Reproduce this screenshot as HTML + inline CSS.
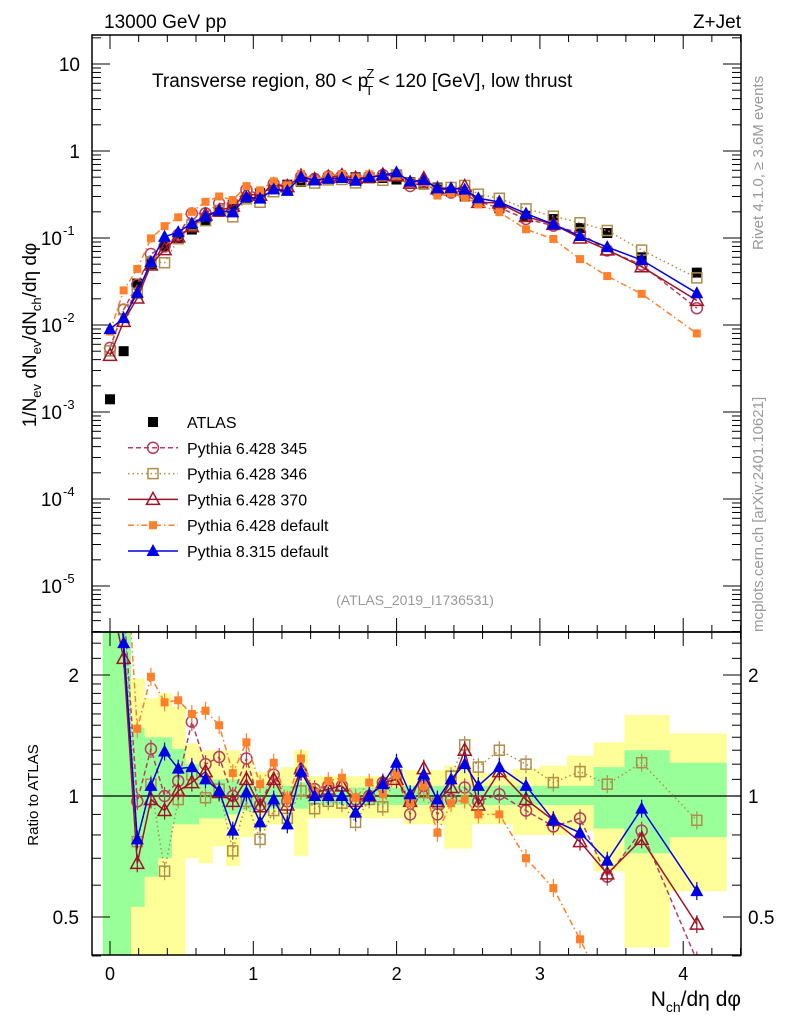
<!DOCTYPE html>
<html><head><meta charset="utf-8"><style>
html,body{margin:0;padding:0;background:#fff;width:786px;height:1024px;overflow:hidden;}
svg{display:block;font-family:"Liberation Sans",sans-serif;}
</style></head><body>
<svg id="c" width="786" height="1024" viewBox="0 0 786 1024" xmlns="http://www.w3.org/2000/svg">
<defs>
<clipPath id="cm"><rect x="92" y="35" width="649" height="597"/></clipPath>
<clipPath id="cr"><rect x="92" y="632" width="649" height="323"/></clipPath>
</defs>
<g id="bands" clip-path="url(#cr)"></g>
<g id="grid"></g>
<g id="mainMarks" clip-path="url(#cm)"></g>
<g id="ratioMarks" clip-path="url(#cr)"></g>
<rect x="92" y="35" width="649" height="597" fill="none" stroke="#000" stroke-width="1.5"/>
<rect x="92" y="632" width="649" height="323" fill="none" stroke="#000" stroke-width="1.5"/>
<text x="104" y="28" font-size="19">13000 GeV pp</text>
<text x="741" y="28" font-size="19" text-anchor="end">Z+Jet</text>
<text x="152" y="87" font-size="19">Transverse region, 80 &lt; p<tspan font-size="13" dy="-9" dx="-2">Z</tspan><tspan font-size="13" dy="17" dx="-9">T</tspan><tspan dy="-8"> &lt; 120 [GeV], low thrust</tspan></text>
<text transform="translate(36,335) rotate(-90)" font-size="19" text-anchor="middle">1/N<tspan font-size="13" dy="5">ev</tspan><tspan dy="-5"> dN</tspan><tspan font-size="13" dy="5">ev</tspan><tspan dy="-5">/dN</tspan><tspan font-size="13" dy="5">ch</tspan><tspan dy="-5">/dη dφ</tspan></text>
<text transform="translate(38,795) rotate(-90)" font-size="15" text-anchor="middle">Ratio to ATLAS</text>
<text x="741" y="1006" font-size="21" text-anchor="end">N<tspan font-size="14" dy="6">ch</tspan><tspan dy="-6">/dη dφ</tspan></text>
<text transform="translate(763,250) rotate(-90)" font-size="15" fill="#999">Rivet 4.1.0, ≥ 3.6M events</text>
<text transform="translate(763,632) rotate(-90)" font-size="15" fill="#999">mcplots.cern.ch [arXiv:2401.10621]</text>
<text x="415" y="605" font-size="14" fill="#999" text-anchor="middle">(ATLAS_2019_I1736531)</text>
<g id="legend"></g>
</svg>
<script>
// ---- data ----
const xVals=[0,0.0952,0.1904,0.2856,0.3808,0.476,0.5712,0.6664,0.7616,0.8568,0.952,1.0472,1.1424,1.2376,1.3328,1.428,1.5232,1.6184,1.7136,1.8088,1.904,1.9992,2.0944,2.1896,2.2848,2.38,2.4752,2.5704,2.717,2.903,3.094,3.28,3.47,3.71,4.095];
const atlasVals=[0.0014,0.005,0.030,0.050,0.08,0.10,0.125,0.16,0.20,0.24,0.29,0.33,0.37,0.41,0.44,0.46,0.48,0.49,0.50,0.50,0.49,0.47,0.44,0.41,0.38,0.34,0.30,0.27,0.22,0.18,0.165,0.13,0.114,0.06,0.04];
const ratio345=[3.9,3.0,0.97,1.31,1.0,1.09,1.53,1.20,1.25,1.0,1.24,0.95,1.13,0.97,1.15,1.04,1.06,1.06,0.98,1.0,1.08,1.13,0.90,1.06,0.90,0.98,1.05,0.97,1.01,0.92,0.84,0.88,0.63,0.82,0.39];
const ratio346=[3.6,3.0,0.77,1.07,0.65,0.98,1.13,0.99,1.04,0.73,0.97,0.78,0.92,0.88,1.03,0.93,0.97,0.96,0.86,0.98,0.94,1.13,0.97,1.02,0.96,1.12,1.34,1.18,1.30,1.20,1.08,1.15,1.07,1.21,0.87];
const ratio370=[3.2,2.2,0.68,0.98,0.92,1.03,1.08,1.15,1.02,0.97,1.10,0.94,1.10,0.95,1.17,1.02,1.04,1.06,0.97,1.0,1.08,1.10,0.97,1.17,0.97,1.05,1.30,0.95,1.15,0.98,0.87,0.77,0.64,0.78,0.48];
const ratioP6def=[6.0,5.0,1.47,1.98,1.71,1.73,1.60,1.63,1.50,1.14,1.36,1.07,1.21,0.98,1.24,1.02,1.09,1.11,0.99,1.08,1.01,1.13,0.96,1.06,0.81,0.96,0.98,0.90,0.90,0.70,0.59,0.44,0.32,0.38,0.20];
const ratioP8=[6.4,2.4,0.78,1.06,1.29,1.17,1.18,1.10,1.03,0.82,1.02,0.86,0.98,0.85,1.15,1.0,1.0,1.0,0.91,1.0,1.07,1.21,1.01,1.13,0.98,1.10,1.20,1.06,1.18,1.06,0.87,0.81,0.69,0.93,0.58];
const yellowHi=[3,3,1.96,1.75,1.80,1.67,1.35,1.30,1.30,1.30,1.22,1.15,1.15,1.18,1.30,1.12,1.12,1.12,1.12,1.12,1.12,1.12,1.16,1.16,1.16,1.19,1.19,1.14,1.14,1.17,1.19,1.26,1.36,1.59,1.43];
const yellowLo=[0.3,0.3,0.3,0.3,0.3,0.3,0.70,0.68,0.75,0.67,0.79,0.82,0.85,0.85,0.71,0.88,0.88,0.88,0.88,0.88,0.88,0.88,0.85,0.85,0.85,0.74,0.74,0.85,0.85,0.80,0.80,0.82,0.65,0.42,0.58];
const greenHi=[3,3,1.48,1.40,1.40,1.31,1.20,1.12,1.10,1.10,1.07,1.06,1.06,1.06,1.08,1.05,1.05,1.05,1.05,1.05,1.05,1.05,1.06,1.06,1.06,1.06,1.06,1.06,1.06,1.06,1.06,1.06,1.18,1.30,1.21];
const greenLo=[0.3,0.3,0.53,0.63,0.70,0.85,0.85,0.88,0.88,0.90,0.92,0.93,0.93,0.95,0.93,0.95,0.95,0.95,0.95,0.95,0.95,0.95,0.95,0.95,0.95,0.95,0.95,0.95,0.95,0.95,0.95,0.95,0.83,0.72,0.79];
const xTickLabels=["0","1","2","3","4"];
const yMainTickExps=[1,0,-1,-2,-3,-4,-5];
const ratioTickVals=[2,1,0.5];
const seriesNames=["ATLAS","Pythia 6.428 345","Pythia 6.428 346","Pythia 6.428 370","Pythia 6.428 default","Pythia 8.315 default"];

// ---- axes ----
const X0=92,X1=741;
function xs(v){return 110+v*143.3;}
function ym(v){return 151-87*Math.log10(v);}
function yr(r){return 796-121*Math.log2(r);}
const NS="http://www.w3.org/2000/svg";
function mk(tag,attrs,parent){const e=document.createElementNS(NS,tag);for(const k in attrs)e.setAttribute(k,attrs[k]);parent.appendChild(e);return e;}
const svg=document.getElementById('c');
const gB=document.getElementById('bands'),gG=document.getElementById('grid'),gM=document.getElementById('mainMarks'),gR=document.getElementById('ratioMarks'),gL=document.getElementById('legend');

const edges=[-0.05];
for(let i=0;i<xVals.length-1;i++)edges.push((xVals[i]+xVals[i+1])/2);
edges.push(4.3);
for(let i=0;i<xVals.length;i++){
  const a=xs(edges[i]),b=xs(edges[i+1]);
  const y=mk('rect',{x:a,y:yr(yellowHi[i]),width:b-a+0.5,height:yr(yellowLo[i])-yr(yellowHi[i]),fill:'#ffff99'},gB);
  
  
}
for(let i=0;i<xVals.length;i++){
  const a=xs(edges[i]),b=xs(edges[i+1]);
  const g=mk('rect',{x:a,y:yr(greenHi[i]),width:b-a+0.5,height:yr(greenLo[i])-yr(greenHi[i]),fill:'#99ff99'},gB);
  
  
}
const one=mk('line',{x1:X0,x2:X1,y1:yr(1),y2:yr(1),stroke:'#000','stroke-width':1.3},gB);



function tick(x1,y1,x2,y2){mk('line',{x1,y1,x2,y2,stroke:'#000','stroke-width':1},gG);}
for(let k=-1;k<=22;k++){
  const v=k*0.2;const x=xs(v);if(x<X0||x>X1)continue;
  const major=(k%5===0);const L=major?14:7;
  tick(x,35,x,35+L);tick(x,632,x,632-L);tick(x,632,x,632+L);tick(x,955,x,955-L);
}
xTickLabels.forEach((t,i)=>{const e=mk('text',{x:xs(+t),y:980,'font-size':18,'text-anchor':'middle'},svg);e.textContent=t;

});
for(let d=-6;d<=1;d++){for(let m=1;m<10;m++){const v=m*Math.pow(10,d);const y=ym(v);if(y<35||y>632)continue;const L=m===1?18:9;tick(X0,y,X0+L,y);tick(X1,y,X1-L,y);}}
yMainTickExps.forEach(p=>{const y=ym(Math.pow(10,p));let e;
  if(p===0){e=mk('text',{x:80,y:y+7,'font-size':19,'text-anchor':'end'},svg);e.textContent='1';}
  else if(p===1){e=mk('text',{x:80,y:y+7,'font-size':19,'text-anchor':'end'},svg);e.textContent='10';}
  else{e=mk('text',{x:62,y:y+7,'font-size':19,'text-anchor':'end'},svg);e.textContent='10';const s=mk('text',{x:63,y:y-3,'font-size':13},svg);s.textContent=String(p);}
  
  });
const rMinor=[0.4,0.5,0.6,0.7,0.8,0.9,1,1.1,1.2,1.3,1.4,1.5,1.6,1.7,1.8,1.9,2,2.2,2.4];
rMinor.forEach(r=>{const y=yr(r);const L=(r===0.5||r===1||r===2)?18:9;tick(X0,y,X0+L,y);tick(X1,y,X1-L,y);});
ratioTickVals.forEach(r=>{const y=yr(r)+7;
  const a=mk('text',{x:79,y,'font-size':19,'text-anchor':'end'},svg);a.textContent=String(r);
  
  
  const b=mk('text',{x:748,y,'font-size':19},svg);b.textContent=String(r);
  
  });

function marker(g,type,x,y,col){
  if(type==='fsq')return mk('rect',{x:x-5,y:y-5,width:10,height:10,fill:col},g);
  if(type==='osq')return mk('rect',{x:x-5,y:y-5,width:10,height:10,fill:'none',stroke:col,'stroke-width':1.5},g);
  if(type==='oc')return mk('circle',{cx:x,cy:y,r:5.5,fill:'none',stroke:col,'stroke-width':1.5},g);
  if(type==='otri')return mk('polygon',{points:`${x},${y-7} ${x-6.5},${y+5} ${x+6.5},${y+5}`,fill:'none',stroke:col,'stroke-width':1.5},g);
  if(type==='ftri')return mk('polygon',{points:`${x},${y-7} ${x-6.5},${y+5} ${x+6.5},${y+5}`,fill:col},g);
  if(type==='smsq')return mk('rect',{x:x-4,y:y-4,width:8,height:8,fill:col},g);
}
const models=[
 {r:ratio345,col:'#b5405e',dash:'5,3',m:'oc',name:'pythia6-345'},
 {r:ratio346,col:'#b08d4a',dash:'1.5,3',m:'osq',name:'pythia6-346'},
 {r:ratio370,col:'#9e1328',dash:'',m:'otri',name:'pythia6-370'},
 {r:ratioP6def,col:'#ff7f2a',dash:'6,3,1.5,3',m:'smsq',name:'pythia6-default'},
 {r:ratioP8,col:'#0000e6',dash:'',m:'ftri',name:'pythia8-default'}
];
atlasVals.forEach((v,i)=>{const e=marker(gM,'fsq',xs(xVals[i]),ym(v),'#000');
  
  });
models.forEach(md=>{
  const mainPts=xVals.map((x,i)=>[xs(x),ym(atlasVals[i]*md.r[i])]);
  const ratPts=xVals.map((x,i)=>[xs(x),yr(md.r[i])]);
  const l1=mk('polyline',{points:mainPts.map(p=>p.join(',')).join(' '),fill:'none',stroke:md.col,'stroke-width':1.5,'stroke-dasharray':md.dash},gM);
  
  
  const l2=mk('polyline',{points:ratPts.map(p=>p.join(',')).join(' '),fill:'none',stroke:md.col,'stroke-width':1.5,'stroke-dasharray':md.dash},gR);
  
  
  mainPts.forEach(p=>{const e=marker(gM,md.m,p[0],p[1],md.col);
    
    });
  ratPts.forEach(p=>{const e=marker(gR,md.m,p[0],p[1],md.col);
    mk('line',{x1:p[0],x2:p[0],y1:p[1]-9,y2:p[1]+9,stroke:md.col,'stroke-width':1.2},gR);
    
    });
});
const legTypes=[['fsq','#000',''],['oc','#b5405e','5,3'],['osq','#b08d4a','1.5,3'],['otri','#9e1328',''],['smsq','#ff7f2a','6,3,1.5,3'],['ftri','#0000e6','']];
seriesNames.forEach((n,i)=>{
  const y=422+i*25.8;
  const g=mk('g',{},gL);
  
  
  if(i>0)mk('line',{x1:128,x2:178,y1:y,y2:y,stroke:legTypes[i][1],'stroke-width':1.5,'stroke-dasharray':legTypes[i][2]},g);
  marker(g,legTypes[i][0],153,y,legTypes[i][1]);
  const t=mk('text',{x:187,y:y+6,'font-size':16},g);t.textContent=n;
});
</script>
</body></html>
